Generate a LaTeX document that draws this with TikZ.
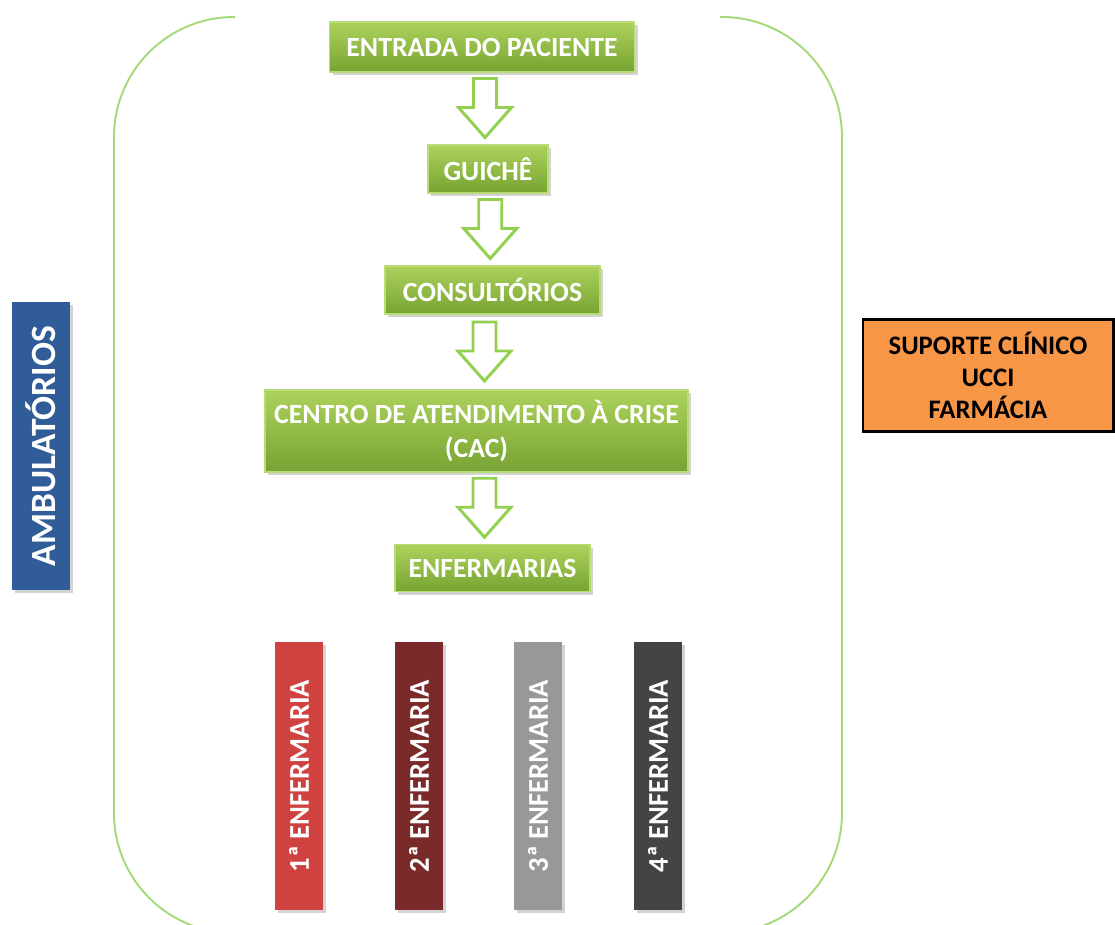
\documentclass[tikz,border=0pt]{standalone}
\usepackage{fontspec}
\setmainfont{Carlito}[BoldFont={Carlito Bold}]
\usetikzlibrary{calc,shadows}
\definecolor{verdeClaro}{RGB}{172,210,92}
\definecolor{verdeEscuro}{RGB}{120,163,50}
\definecolor{verdeBorda}{RGB}{185,220,120}
\definecolor{verdeSeta}{RGB}{146,208,80}
\definecolor{verdeLinha}{RGB}{165,218,120}
\definecolor{azulAmb}{RGB}{48,92,152}
\definecolor{laranja}{RGB}{247,150,70}
\definecolor{enfA}{RGB}{208,66,64}
\definecolor{enfB}{RGB}{122,42,40}
\definecolor{enfC}{RGB}{152,152,152}
\definecolor{enfD}{RGB}{68,68,68}
\tikzset{
    caixa/.style={draw=verdeBorda, line width=0.6pt, top color=verdeClaro,
        bottom color=verdeEscuro, text=white, align=center, inner sep=0pt,
        font=\bfseries\fontsize{15.8}{19}\selectfont,
        drop shadow={opacity=0.35, shadow xshift=0.06, shadow yshift=-0.06}},
    barra/.style={rotate=90, minimum width=5.36cm, minimum height=0.96cm,
        inner sep=0pt, text=white, font=\bfseries\fontsize{16.3}{18}\selectfont,
        drop shadow={opacity=0.35, shadow xshift=0.06, shadow yshift=-0.06}},
    seta/.pic={
        \draw[line width=1.7pt, draw=verdeSeta, fill=white, line join=miter]
        (-0.23,0.6)--(-0.23,0.02)--(-0.53,0.02)--(0,-0.58)--(0.53,0.02)
        --(0.23,0.02)--(0.23,0.6)--cycle;
    }
}
\begin{document}
\begin{tikzpicture}
\useasboundingbox (0,0) rectangle (22.3,-18.5);
% moldura verde
\begin{scope}
\clip (0,0) rectangle (22.3,-18.5);
\draw[verdeLinha, line width=1.1pt, rounded corners=2.4cm]
    (4.70,-0.34)--(2.28,-0.34)--(2.28,-18.66)--(16.84,-18.66)
    --(16.84,-0.34)--(14.40,-0.34);
\end{scope}
% fluxo
\node[caixa, minimum width=6.1cm, minimum height=1.0cm] (entrada) at (9.64,-0.94) {ENTRADA DO PACIENTE};
\node[caixa, minimum width=2.4cm, minimum height=0.96cm] (guiche) at (9.76,-3.38) {GUICHÊ};
\node[caixa, minimum width=4.3cm, minimum height=0.96cm] (consult) at (9.85,-5.8) {CONSULTÓRIOS};
\node[caixa, minimum width=8.46cm, minimum height=1.64cm] (cac) at (9.53,-8.62) {CENTRO DE ATENDIMENTO À CRISE\\(CAC)};
\node[caixa, minimum width=3.9cm, minimum height=0.94cm] (enferm) at (9.85,-11.36) {ENFERMARIAS};
\pic at ($(entrada.south)!0.5!(guiche.north)$) {seta};
\pic at ($(guiche.south)!0.5!(consult.north)$) {seta};
\pic at ($(consult.south)!0.5!(cac.north)$) {seta};
\pic at ($(cac.south)!0.5!(enferm.north)$) {seta};
% enfermarias
\foreach \x/\cor/\n in {5.98/enfA/1,8.38/enfB/2,10.76/enfC/3,13.16/enfD/4}
{
    \node[barra, fill=\cor] (bar\n) at (\x,-15.52) {\n ª ENFERMARIA};
}
% laterais
\node[rotate=90, fill=azulAmb, minimum width=5.76cm, minimum height=1.16cm,
    inner sep=0pt, text=white, font=\bfseries\fontsize{20.2}{22}\selectfont,
    drop shadow={opacity=0.35, shadow xshift=0.06, shadow yshift=-0.06}]
    (ambul) at (0.82,-8.92) {AMBULATÓRIOS};
\node[draw=black, line width=1.7pt, fill=laranja, minimum width=5.0cm,
    minimum height=2.24cm, inner sep=0pt, align=center,
    font=\bfseries\fontsize{15.2}{18}\selectfont]
    (suporte) at (19.76,-7.51) {SUPORTE CLÍNICO\\UCCI\\FARMÁCIA};
\end{tikzpicture}
\end{document}
